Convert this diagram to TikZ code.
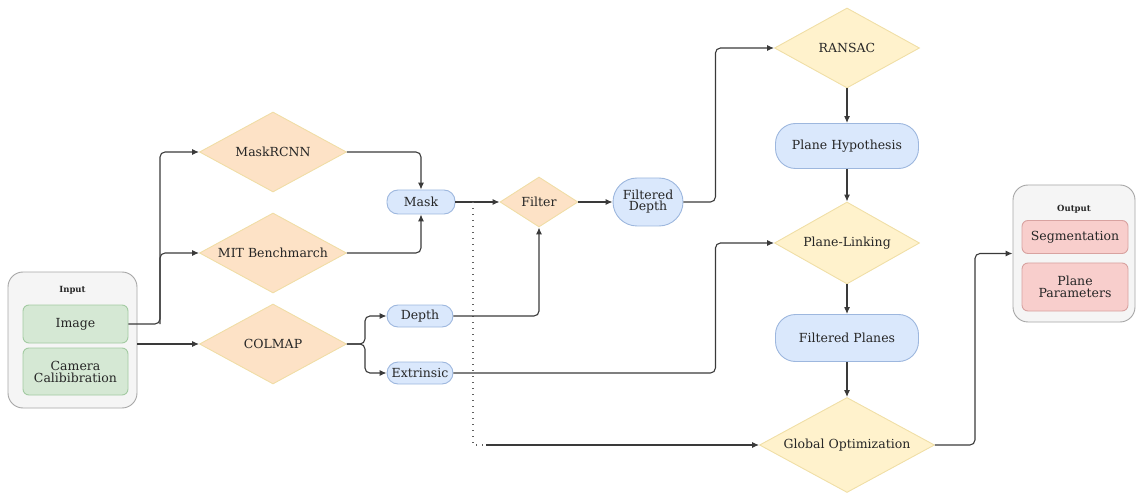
\documentclass[tikz,border=0pt]{standalone}
\usepackage{fontspec}
\setmainfont{DejaVu Serif}
\usetikzlibrary{shapes.geometric,arrows.meta,calc}
\definecolor{txt}{HTML}{262626}
\definecolor{lineg}{HTML}{3A3A3A}
\definecolor{orfill}{HTML}{FDE2C6}
\definecolor{ordraw}{HTML}{F0DDA6}
\definecolor{yefill}{HTML}{FFF2CC}
\definecolor{yedraw}{HTML}{F0DFA6}
\definecolor{blfill}{HTML}{DAE8FC}
\definecolor{bldraw}{HTML}{9DB7DE}
\definecolor{grfill}{HTML}{D5E8D4}
\definecolor{grdraw}{HTML}{A3CBA2}
\definecolor{pkfill}{HTML}{F8CECC}
\definecolor{pkdraw}{HTML}{D8A2A0}
\definecolor{cnfill}{HTML}{F5F5F5}
\definecolor{cndraw}{HTML}{A6A6A6}
\tikzset{
  base/.style={font=\fontsize{12.5}{14}\selectfont, text=txt, align=center, inner sep=0pt, line width=0.9pt},
  odia/.style={base, diamond, fill=orfill, draw=ordraw, minimum width=147, minimum height=80, shape aspect=1.8},
  ydia/.style={base, diamond, fill=yefill, draw=yedraw, minimum width=145, minimum height=80, shape aspect=1.8},
  pill/.style={base, rectangle, rounded corners=11pt, fill=blfill, draw=bldraw},
  bigpill/.style={base, rectangle, rounded corners=20pt, fill=blfill, draw=bldraw, minimum width=143},
  gbox/.style={base, rectangle, rounded corners=6pt, fill=grfill, draw=grdraw, minimum width=105},
  pbox/.style={base, rectangle, rounded corners=6pt, fill=pkfill, draw=pkdraw, minimum width=106},
  cont/.style={rectangle, rounded corners=15pt, fill=cnfill, draw=cndraw, line width=0.9pt},
  ctitle/.style={font=\bfseries\fontsize{8.5}{10}\selectfont, text=txt, inner sep=0pt},
  arr/.style={draw=lineg, line width=1.1pt, rounded corners=5pt, -{Latex[length=7pt,width=6pt]}},
  dots/.style={draw=lineg!80, line width=1.4pt, dash pattern=on 1.4pt off 4.6pt}
}
\begin{document}
\begin{tikzpicture}[x=1pt,y=-1pt]
\useasboundingbox (0,0) rectangle (1137,494);
% containers
\node[cont, minimum width=129, minimum height=136] (inp) at (72.5,340) {};
\node[ctitle] (inpt) at (72.5,290) {Input};
\node[gbox, minimum height=38] (img) at (75.5,324) {Image};
\node[gbox, minimum height=47] (cam) at (75.5,371.5) {Camera\\[-2pt]Calibibration};
\node[cont, minimum width=122, minimum height=137] (out) at (1074,253.5) {};
\node[ctitle] (outt) at (1074,209) {Output};
\node[pbox, minimum height=33] (seg) at (1075,237) {Segmentation};
\node[pbox, minimum height=48] (pp) at (1075,287) {Plane\\[-2pt]Parameters};
% process nodes
\node[odia] (mrc) at (273,152) {MaskRCNN};
\node[odia] (mit) at (273,253) {MIT Benchmarch};
\node[odia] (col) at (273,344) {COLMAP};
\node[pill, minimum width=68, minimum height=24] (mask) at (421,202) {Mask};
\node[pill, minimum width=66, minimum height=22] (dep) at (420,316) {Depth};
\node[pill, minimum width=66, minimum height=22] (ext) at (420,373) {Extrinsic};
\node[odia, minimum width=78, minimum height=50, shape aspect=1.56] (fil) at (539,202) {Filter};
\node[pill, rounded corners=24pt, minimum width=70, minimum height=48] (fd) at (648,202) {Filtered\\[-3pt]Depth};
\node[ydia] (ran) at (847,48) {RANSAC};
\node[bigpill, minimum height=45] (ph) at (847,146) {Plane Hypothesis};
\node[ydia, minimum height=82] (pl) at (847,243) {Plane-Linking};
\node[bigpill, minimum height=47] (fp) at (847,338) {Filtered Planes};
\node[ydia, minimum width=175, minimum height=95, shape aspect=1.84] (glob) at (847,445) {Global Optimization};
% connectors
\coordinate (j1) at (160,324);
\draw[arr] (img.east) -- (j1) |- (mrc.west);
\draw[arr] (j1) |- (mit.west);
\draw[arr] (inp.east |- col.west) -- (col.west);
\draw[arr] (mrc.east) -| (mask.north);
\draw[arr] (mit.east) -| (mask.south);
\draw[arr] (col.east) -- ++(18,0) |- (dep.west);
\draw[arr] (col.east) -- ++(18,0) |- (ext.west);
\draw[arr] (mask.east) -- (fil.west);
\coordinate (mb) at (473,202);
\coordinate (dk) at (486,445);
\draw[dots] (mb) |- (dk);
\draw[arr] (dk) -- (glob.west);
\draw[arr] (dep.east) -| (fil.south);
\draw[arr] (fil.east) -- (fd.west);
\draw[arr] (fd.east) -- ++(32,0) |- (ran.west);
\draw[arr] (ran.south) -- (ph.north);
\draw[arr] (ph.south) -- (pl.north);
\draw[arr] (ext.east) -- ++(262,0) |- (pl.west);
\draw[arr] (pl.south) -- (fp.north);
\draw[arr] (fp.south) -- (glob.north);
\draw[arr] (glob.east) -- ++(40,0) |- (out.west);
\end{tikzpicture}
\end{document}
